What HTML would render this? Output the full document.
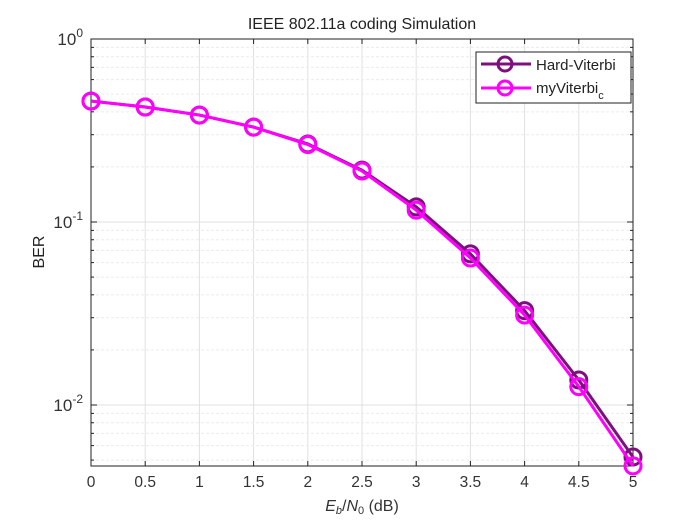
<!DOCTYPE html>
<html><head><meta charset="utf-8"><style>
body{margin:0;background:#fff;}
svg text{font-family:"Liberation Sans",sans-serif;}
</style></head><body>
<svg id="chart" width="700" height="525" xmlns="http://www.w3.org/2000/svg">
<rect x="0" y="0" width="700" height="525" fill="#fff"/>
<rect x="91" y="39" width="542" height="427" fill="#fff"/>
<g id="grid"></g>
<g id="axes"></g>
<g id="series"></g>
<text x="362" y="29" text-anchor="middle" font-size="16" fill="#222">IEEE 802.11a coding Simulation</text>
<text x="362" y="511" text-anchor="middle" font-size="16" font-family="Liberation Serif, serif" fill="#333"><tspan font-style="italic">E</tspan><tspan font-size="11" dy="3" font-style="italic">b</tspan><tspan dy="-3">/</tspan><tspan font-style="italic">N</tspan><tspan font-size="11" dy="3">0</tspan><tspan dy="-3"> (dB)</tspan></text>
<text transform="translate(44,252) rotate(-90)" text-anchor="middle" font-size="16" fill="#222">BER</text>
<g>
<rect x="476" y="52" width="155" height="51" fill="#fff" stroke="#222" stroke-width="1"/>
<line x1="481" y1="64" x2="531" y2="64" stroke="#7e0f7e" stroke-width="3"/>
<circle cx="505" cy="64" r="7" fill="none" stroke="#7e0f7e" stroke-width="3"/>
<text x="536" y="70" font-size="15" fill="#222">Hard-Viterbi</text>
<line x1="481" y1="88" x2="531" y2="88" stroke="#ff00ff" stroke-width="3"/>
<circle cx="505" cy="88" r="7" fill="none" stroke="#ff00ff" stroke-width="3"/>
<text x="536" y="93" font-size="15" fill="#222">myViterbi<tspan font-size="11" dy="6">c</tspan></text>
</g>
</svg>
<script>
const xValues=[0,0.5,1,1.5,2,2.5,3,3.5,4,4.5,5];
const hardBER=[0.458,0.425,0.384,0.330,0.267,0.192,0.121,0.067,0.0328,0.0137,0.0052];
const myBER=[0.458,0.425,0.384,0.330,0.265,0.190,0.116,0.0636,0.031,0.0126,0.00465];
const xTicks=[0,0.5,1,1.5,2,2.5,3,3.5,4,4.5,5];
const xTickLabels=["0","0.5","1","1.5","2","2.5","3","3.5","4","4.5","5"];
const yDecades=[0,-1,-2];
const X0=91,X1=633,Y0=39,Y1=466,LMIN=-2.3333,LMAX=0;
const NS="http://www.w3.org/2000/svg";
function xs(v){return X0+(v-0)/(5-0)*(X1-X0);}
function ys(v){return Y0+(LMAX-Math.log10(v))/(LMAX-LMIN)*(Y1-Y0);}
function mk(tag,attrs,parent){const e=document.createElementNS(NS,tag);for(const k in attrs)e.setAttribute(k,attrs[k]);parent.appendChild(e);return e;}
const grid=document.getElementById('grid'),axes=document.getElementById('axes'),ser=document.getElementById('series');
xTicks.forEach((t,i)=>{
 const x=xs(t);
 const g=mk('line',{x1:x,x2:x,y1:Y0,y2:Y1,stroke:'#e0e0e0','stroke-width':1},grid);
 
 
 mk('line',{x1:x,x2:x,y1:Y1,y2:Y1-5,stroke:'#222'},axes);
 mk('line',{x1:x,x2:x,y1:Y0,y2:Y0+5,stroke:'#222'},axes);
 const tx=mk('text',{x:x,y:Y1+21,'text-anchor':'middle','font-size':15.5,fill:'#333'},axes);
 tx.textContent=xTickLabels[i];
 
 
});
for(let d=-3;d<=0;d++){
 for(let m=1;m<10;m++){
  const v=m*Math.pow(10,d);const lv=Math.log10(v);
  if(lv<LMIN-1e-6||lv>LMAX+1e-6)continue;
  const y=ys(v);
  const g=mk('line',{x1:X0,x2:X1,y1:y,y2:y,stroke:m===1?'#e0e0e0':'#ececec','stroke-width':1,'stroke-dasharray':m===1?'':'3,2'},grid);
  
  
  const tl=m===1?6:3;
  mk('line',{x1:X0,x2:X0+tl,y1:y,y2:y,stroke:'#222'},axes);
  mk('line',{x1:X1,x2:X1-tl,y1:y,y2:y,stroke:'#222'},axes);
 }
}
yDecades.forEach(d=>{
 const y=ys(Math.pow(10,d));
 const t=mk('text',{x:X0-8,y:y+6,'text-anchor':'end','font-size':17,fill:'#333'},axes);
 
 
 t.appendChild(document.createTextNode('10'));
 const s=mk('tspan',{dy:-8,'font-size':12},t);s.textContent=String(d);
});
const fr=mk('rect',{x:X0,y:Y0,width:X1-X0,height:Y1-Y0,fill:'none',stroke:'#222','stroke-width':1},axes);


function drawSeries(vals,color,name){
 const pts=vals.map((v,i)=>xs(xValues[i])+','+ys(v)).join(' ');
 const pl=mk('polyline',{points:pts,fill:'none',stroke:color,'stroke-width':3},ser);
 
 
 vals.forEach((v,i)=>{
  const c=mk('circle',{cx:xs(xValues[i]),cy:ys(v),r:8,fill:'none',stroke:color,'stroke-width':3},ser);
  
  
 });
}
drawSeries(hardBER,'#7e0f7e','hard-viterbi');
drawSeries(myBER,'#ff00ff','myviterbi');
</script>
</body></html>
